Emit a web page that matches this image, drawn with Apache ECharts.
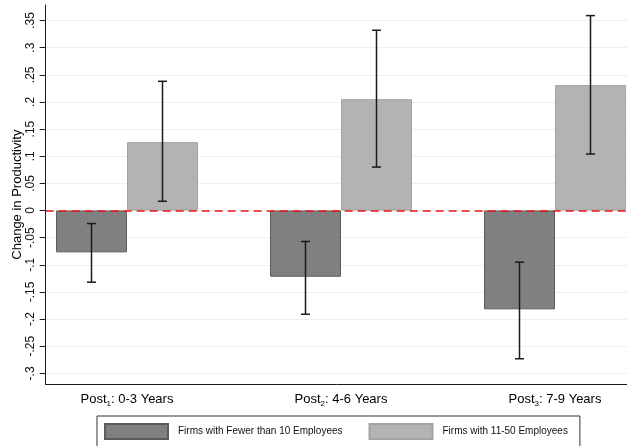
<!DOCTYPE html>
<html>
<head>
<meta charset="utf-8">
<style>
  html, body { margin: 0; padding: 0; background: #fff; }
  #chart { width: 627px; height: 446px; }
</style>
<script src="https://cdn.jsdelivr.net/npm/echarts@6/dist/echarts.min.js"></script>
</head>
<body>
<div id="chart"></div>
<script>
// ---------------- data ----------------
const categories = ['Post₁: 0-3 Years', 'Post₂: 4-6 Years', 'Post₃: 7-9 Years'];
const seriesNames = ['Firms with Fewer than 10 Employees', 'Firms with 11-50 Employees'];
const smallEst = [-0.077, -0.122, -0.182];
const smallLo  = [-0.132, -0.191, -0.273];
const smallHi  = [-0.024, -0.057, -0.095];
const midEst   = [0.126, 0.205, 0.231];
const midLo    = [0.017, 0.080, 0.104];
const midHi    = [0.238, 0.332, 0.359];
const yTickMin = -0.3, yTickMax = 0.35, yTickStep = 0.05;
const yAxisTitle = 'Change in Productivity';

// ---------------- style / layout ----------------
const FONT = 'Liberation Sans, Arial, sans-serif';
const BAR_W = 71;
const CAP = 4.5;
const plotTop = 5, plotBottomPx = 384.3;
const tickTopPx = 20.5, tickBottomPx = 373.4;
const pxPerUnit = (tickBottomPx - tickTopPx) / (yTickMax - yTickMin);
const fullMax = yTickMax + (tickTopPx - plotTop) / pxPerUnit;
const fullMin = yTickMin - (plotBottomPx - tickBottomPx) / pxPerUnit;

const subMap = { '₁': '1', '₂': '2', '₃': '3' };
function catLabel(v) {
  const m = v.match(/^(.*?)([₁₂₃])(.*)$/);
  if (!m) return '{a|' + v + '}';
  return '{a|' + m[1] + '}{s|' + subMap[m[2]] + '}{a|' + m[3] + '}';
}
function stataNum(v) {
  let s = String(+(+v).toFixed(2));
  return s.replace(/^(-?)0\./, '$1.');
}

function errRender(offsetSign) {
  return function (params, api) {
    const c = api.value(0);
    const lo = api.coord([c, api.value(1)]);
    const hi = api.coord([c, api.value(2)]);
    const x = lo[0] + offsetSign * BAR_W / 2;
    const style = { stroke: '#1a1a1a', lineWidth: 1.5 };
    return {
      type: 'group',
      children: [
        { type: 'line', shape: { x1: x, y1: lo[1], x2: x, y2: hi[1] }, style },
        { type: 'line', shape: { x1: x - CAP, y1: lo[1], x2: x + CAP, y2: lo[1] }, style },
        { type: 'line', shape: { x1: x - CAP, y1: hi[1], x2: x + CAP, y2: hi[1] }, style }
      ]
    };
  };
}

const chart = echarts.init(document.getElementById('chart'), null, { renderer: 'canvas' });

const option = {
  backgroundColor: '#fff',
  animation: false,
  textStyle: { fontFamily: FONT },
  grid: [
    // 0: frame grid (axis lines, zero line, y title)
    { left: 45.7, right: 0, top: plotTop, height: plotBottomPx - plotTop },
    // 1: tick grid (ticks, labels, gridlines)
    { left: 45.7, right: 0, top: tickTopPx, height: tickBottomPx - tickTopPx },
    // 2: bar grid (categories sit on the grid's edges and centre)
    { left: 127, right: 72, top: plotTop, height: plotBottomPx - plotTop }
  ],
  xAxis: [
    { gridIndex: 0, type: 'value', min: 0, max: 1, axisLine: { show: true, onZero: false, lineStyle: { color: '#1a1a1a', width: 1 } },
      axisTick: { show: false }, axisLabel: { show: false }, splitLine: { show: false } },
    { gridIndex: 1, type: 'value', min: 0, max: 1, show: false },
    { gridIndex: 2, type: 'category', data: categories, boundaryGap: false,
      axisLine: { show: false, onZero: false }, axisTick: { show: false }, splitLine: { show: false },
      axisLabel: { margin: 8, formatter: catLabel, interval: 0,
        rich: {
          a: { fontSize: 13, color: '#000', fontFamily: FONT, lineHeight: 15 },
          s: { fontSize: 8, color: '#000', fontFamily: FONT, lineHeight: 15, verticalAlign: 'bottom', padding: [5, 0, 0, 0] }
        } } }
  ],
  yAxis: [
    { gridIndex: 0, type: 'value', min: fullMin, max: fullMax,
      axisLine: { show: true, lineStyle: { color: '#1a1a1a', width: 1 } },
      axisTick: { show: false }, axisLabel: { show: false }, splitLine: { show: false },
      name: yAxisTitle, nameLocation: 'middle', nameGap: 22,
      nameTextStyle: { fontSize: 13, color: '#000', fontFamily: FONT } },
    { gridIndex: 1, type: 'value', min: yTickMin, max: yTickMax, interval: yTickStep,
      axisLine: { show: false },
      axisTick: { show: true, length: 6, lineStyle: { color: '#1a1a1a', width: 1 } },
      axisLabel: { show: true, rotate: 90, margin: 9, fontSize: 12, color: '#111', fontFamily: FONT, formatter: stataNum },
      splitLine: { show: true, lineStyle: { color: '#e9f0f2', width: 1 } } },
    { gridIndex: 2, type: 'value', min: fullMin, max: fullMax, show: false }
  ],
  legend: {
    data: seriesNames,
    left: 97, top: 416,
    orient: 'horizontal',
    icon: 'rect',
    itemWidth: 63, itemHeight: 15, itemGap: 26,
    padding: [7, 12, 9, 7],
    borderColor: '#333', borderWidth: 1,
    textStyle: { fontSize: 10, color: '#111', fontFamily: FONT, padding: [0, 0, 0, 5] }
  },
  series: [
    { name: seriesNames[0], type: 'bar', xAxisIndex: 2, yAxisIndex: 2, data: smallEst,
      barWidth: BAR_W, barGap: '0%', z: 2, clip: false,
      itemStyle: { color: '#808080', borderColor: '#5c5c5c', borderWidth: 1 } },
    { name: seriesNames[1], type: 'bar', xAxisIndex: 2, yAxisIndex: 2, data: midEst,
      barWidth: BAR_W, barGap: '0%', z: 2, clip: false,
      itemStyle: { color: '#b3b3b3', borderColor: '#a3a3a3', borderWidth: 1 } },
    { type: 'custom', xAxisIndex: 2, yAxisIndex: 2, z: 4, clip: false, renderItem: errRender(-1),
      data: categories.map((c, i) => [i, smallLo[i], smallHi[i]]) },
    { type: 'custom', xAxisIndex: 2, yAxisIndex: 2, z: 4, clip: false, renderItem: errRender(1),
      data: categories.map((c, i) => [i, midLo[i], midHi[i]]) },
    { type: 'line', xAxisIndex: 0, yAxisIndex: 0, data: [], z: 5,
      markLine: { silent: true, symbol: 'none', label: { show: false },
        lineStyle: { color: '#e8141c', width: 1.5, type: [8, 5] },
        data: [{ yAxis: 0 }] } }
  ]
};
chart.setOption(option);
</script>
</body>
</html>
